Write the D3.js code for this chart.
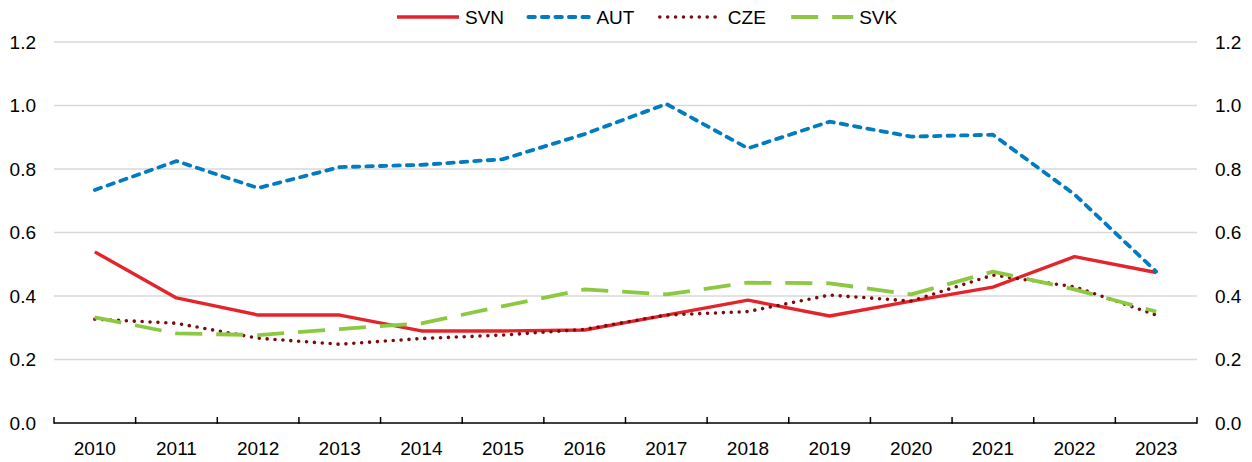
<!DOCTYPE html>
<html>
<head>
<meta charset="utf-8">
<script src="https://cdn.jsdelivr.net/npm/d3@7/dist/d3.min.js"></script>
<style>
  body { margin: 0; background: #fff; }
  svg text { font-family: "Liberation Sans Narrow", "Arial Narrow", "Liberation Sans", Arial, sans-serif; fill: #000; }
</style>
</head>
<body>
<svg id="chart"></svg>
<script>
const years = ["2010", "2011", "2012", "2013", "2014", "2015", "2016", "2017", "2018", "2019", "2020", "2021", "2022", "2023"];
const yTicks = [0, 0.2, 0.4, 0.6, 0.8, 1.0, 1.2];

const svn = [0.539, 0.394, 0.34, 0.34, 0.29, 0.29, 0.293, 0.34, 0.387, 0.337, 0.384, 0.428, 0.524, 0.474];
const aut = [0.734, 0.825, 0.74, 0.806, 0.813, 0.831, 0.91, 1.005, 0.865, 0.949, 0.902, 0.908, 0.72, 0.477];
const cze = [0.327, 0.314, 0.267, 0.248, 0.266, 0.277, 0.295, 0.34, 0.351, 0.403, 0.384, 0.466, 0.429, 0.34];
const svk = [0.333, 0.282, 0.277, 0.296, 0.314, 0.368, 0.421, 0.405, 0.442, 0.44, 0.405, 0.477, 0.421, 0.351];

const series = [
    { name: "SVN", values: svn, color: "#e3242b", width: 3.4, dash: null, cap: "butt" },
    { name: "AUT", values: aut, color: "#037bc1", width: 3.8, dash: "6.5,7", cap: "round" },
    { name: "CZE", values: cze, color: "#7b0c0c", width: 3.6, dash: "0,7.9", cap: "round" },
    { name: "SVK", values: svk, color: "#8cc841", width: 3.8, dash: "27,14", cap: "butt" }
];

const width = 1252, height = 462;
const plotLeft = 54, plotRight = 1197, plotTop = 42, plotBottom = 423;

const svg = d3.select("#chart").attr("width", width).attr("height", height);

const x = d3.scaleBand().domain(years).range([plotLeft, plotRight]);
const y = d3.scaleLinear().domain([0, 1.2]).range([plotBottom, plotTop]);

// gridlines
svg.append("g")
    .selectAll("line")
    .data(yTicks.filter(d => d > 0))
    .join("line")
    .attr("x1", plotLeft).attr("x2", plotRight)
    .attr("y1", d => y(d)).attr("y2", d => y(d))
    .attr("stroke", "#d9d9d9")
    .attr("stroke-width", 1.5);

// left and right value labels
const fmt = d3.format(".1f");
svg.append("g")
    .selectAll("text")
    .data(yTicks)
    .join("text")
    .attr("x", 36).attr("y", d => y(d))
    .attr("dy", "0.35em")
    .attr("text-anchor", "end")
    .attr("font-size", 19)
    .text(fmt);

svg.append("g")
    .selectAll("text")
    .data(yTicks)
    .join("text")
    .attr("x", 1215).attr("y", d => y(d))
    .attr("dy", "0.35em")
    .attr("font-size", 19)
    .text(fmt);

// x axis with ticks between categories
const xAxis = svg.append("g").attr("transform", "translate(0," + plotBottom + ")");
xAxis.append("line")
    .attr("x1", plotLeft).attr("x2", plotRight)
    .attr("stroke", "#000").attr("stroke-width", 1.5);
xAxis.selectAll("line.tick")
    .data(d3.range(years.length + 1))
    .join("line")
    .attr("class", "tick")
    .attr("x1", i => plotLeft + i * x.step()).attr("x2", i => plotLeft + i * x.step())
    .attr("y1", 0.75).attr("y2", -6)
    .attr("stroke", "#000").attr("stroke-width", 1.5);
xAxis.selectAll("text")
    .data(years)
    .join("text")
    .attr("x", d => x(d) + x.bandwidth() / 2)
    .attr("y", 32)
    .attr("text-anchor", "middle")
    .attr("font-size", 19)
    .text(d => d);

// lines
const line = d3.line()
    .x((d, i) => x(years[i]) + x.bandwidth() / 2)
    .y(d => y(d));

svg.append("g")
    .selectAll("path")
    .data(series)
    .join("path")
    .attr("fill", "none")
    .attr("stroke", d => d.color)
    .attr("stroke-width", d => d.width)
    .attr("stroke-dasharray", d => d.dash)
    .attr("stroke-linecap", d => d.cap)
    .attr("stroke-linejoin", "round")
    .attr("d", d => line(d.values));

// legend
const legend = svg.append("g")
    .selectAll("g")
    .data(series)
    .join("g")
    .attr("transform", (d, i) => "translate(" + (397 + i * 131.4) + ",17)");
legend.append("line")
    .attr("x1", 0).attr("x2", 62)
    .attr("stroke", d => d.color)
    .attr("stroke-width", d => d.width)
    .attr("stroke-dasharray", d => d.dash)
    .attr("stroke-linecap", d => d.cap);
legend.append("text")
    .attr("x", 68).attr("y", 0)
    .attr("dy", "0.35em")
    .attr("font-size", 19)
    .text(d => d.name);
</script>
</body>
</html>
